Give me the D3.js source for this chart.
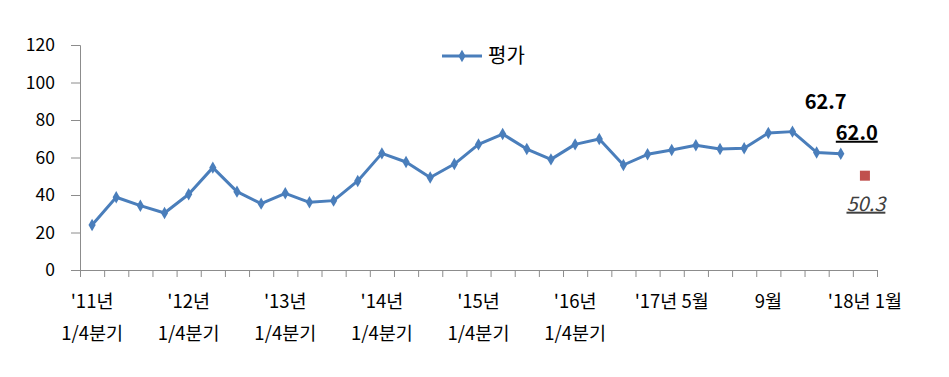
<!DOCTYPE html>
<html>
<head>
<meta charset="utf-8">
<script src="https://cdn.jsdelivr.net/npm/d3@7"></script>
<style>
  body { margin: 0; background: #fff; }
  svg text { font-family: "Noto Sans CJK KR", "Noto Sans", sans-serif; }
</style>
</head>
<body>
<div id="chart"></div>
<script>
// 2011 1Q ~ 2016 4Q (quarterly), 2017.5 ~ 2017.12 (monthly), 2018.1
const categories = [
    "11.1Q", "11.2Q", "11.3Q", "11.4Q",
    "12.1Q", "12.2Q", "12.3Q", "12.4Q",
    "13.1Q", "13.2Q", "13.3Q", "13.4Q",
    "14.1Q", "14.2Q", "14.3Q", "14.4Q",
    "15.1Q", "15.2Q", "15.3Q", "15.4Q",
    "16.1Q", "16.2Q", "16.3Q", "16.4Q",
    "17.05", "17.06", "17.07", "17.08", "17.09", "17.10", "17.11", "17.12",
    "18.01"
];

// 평가 series
const evalValues = [
    24.0, 38.8, 34.3, 30.4,
    40.4, 54.6, 41.8, 35.4,
    40.9, 36.1, 37.0, 47.5,
    62.2, 57.6, 49.3, 56.5,
    67.0, 72.5, 64.5, 59.0,
    67.0, 69.9, 56.0, 61.7,
    64.0, 66.5, 64.5, 64.9, 73.1, 73.8, 62.7, 62.0
];

// single red point for '18.01
const outlookCategory = "18.01";
const outlookValue = 50.3;

const yTicks = [0, 20, 40, 60, 80, 100, 120];

// x labels shown under the axis
const tickCategories = ["11.1Q", "12.1Q", "13.1Q", "14.1Q", "15.1Q", "16.1Q", "17.05", "17.09", "18.01"];
const tickLabels = [
    ["'11년", "1/4분기"],
    ["'12년", "1/4분기"],
    ["'13년", "1/4분기"],
    ["'14년", "1/4분기"],
    ["'15년", "1/4분기"],
    ["'16년", "1/4분기"],
    ["'17년 5월"],
    ["9월"],
    ["'18년 1월"]
];

const width = 949, height = 377;
const plotLeft = 80, plotRight = 877, plotTop = 45, plotBottom = 270;

const svg = d3.select("#chart").append("svg")
    .attr("width", width)
    .attr("height", height);

const x = d3.scaleBand()
    .domain(categories)
    .range([plotLeft, plotRight])
    .padding(0);

const y = d3.scaleLinear()
    .domain([0, 120])
    .range([plotBottom, plotTop]);

const axisColor = "#8c8c8c";

// y axis
const yAxis = svg.append("g")
    .attr("transform", `translate(${plotLeft},0)`)
    .call(d3.axisLeft(y).tickValues(yTicks).tickSize(9).tickPadding(16));
yAxis.select(".domain").attr("stroke", axisColor);
yAxis.selectAll(".tick line").attr("stroke", axisColor);
yAxis.selectAll(".tick text")
    .attr("fill", "#000")
    .style("font-size", "17.5px")
    .style("font-family", "'Noto Sans CJK KR', sans-serif");

// x axis: tick marks at band edges
const edges = d3.scaleLinear().domain([0, categories.length]).range([plotLeft, plotRight]);
const xAxis = svg.append("g")
    .attr("transform", `translate(0,${plotBottom})`)
    .call(d3.axisBottom(edges)
        .tickValues(d3.range(categories.length + 1))
        .tickSize(7)
        .tickSizeOuter(0)
        .tickFormat(""));
xAxis.select(".domain").attr("stroke", axisColor);
xAxis.selectAll(".tick line").attr("stroke", axisColor);

// x labels
const labelGroup = svg.append("g");
tickCategories.forEach((c, i) => {
    const cx = x(c) + x.bandwidth() / 2;
    tickLabels[i].forEach((line, j) => {
        labelGroup.append("text")
            .attr("x", cx)
            .attr("y", 308 + j * 32)
            .attr("text-anchor", "middle")
            .style("font-size", "18.5px")
            .attr("fill", "#000")
            .text(line);
    });
});

// series line
const lineColor = "#4a7ebb";
const line = d3.line()
    .x((d, i) => x(categories[i]) + x.bandwidth() / 2)
    .y(d => y(d));

svg.append("path")
    .datum(evalValues)
    .attr("fill", "none")
    .attr("stroke", lineColor)
    .attr("stroke-width", 3)
    .attr("stroke-linejoin", "round")
    .attr("d", line);

const diamond = d3.symbol().type(d3.symbolDiamond).size(45);

svg.append("g")
    .selectAll("path")
    .data(evalValues)
    .join("path")
    .attr("transform", (d, i) => `translate(${x(categories[i]) + x.bandwidth() / 2},${y(d)})`)
    .attr("d", diamond)
    .attr("fill", lineColor);

// red point
const ox = x(outlookCategory) + x.bandwidth() / 2;
const oy = y(outlookValue);
svg.append("rect")
    .attr("x", ox - 5)
    .attr("y", oy - 5)
    .attr("width", 10)
    .attr("height", 10)
    .attr("fill", "#c0504d");

// value labels
const n = evalValues.length;
const p30x = x(categories[n - 2]) + x.bandwidth() / 2;
const p31x = x(categories[n - 1]) + x.bandwidth() / 2;

svg.append("text")
    .attr("x", p30x + 9)
    .attr("y", y(evalValues[n - 2]) - 43)
    .attr("text-anchor", "middle")
    .style("font-size", "20px")
    .style("font-weight", "bold")
    .attr("fill", "#000")
    .text(evalValues[n - 2].toFixed(1));

svg.append("text")
    .attr("x", p31x + 16)
    .attr("y", y(evalValues[n - 1]) - 14)
    .attr("text-anchor", "middle")
    .style("font-size", "20px")
    .style("font-weight", "bold")
    .style("text-decoration", "underline")
    .attr("fill", "#000")
    .text(evalValues[n - 1].toFixed(1));

svg.append("text")
    .attr("x", ox + 1)
    .attr("y", oy + 35)
    .attr("text-anchor", "middle")
    .style("font-size", "20px")
    .style("font-style", "italic")
    .style("text-decoration", "underline")
    .attr("fill", "#404040")
    .text(outlookValue.toFixed(1));

// legend
const legend = svg.append("g").attr("transform", "translate(442,56)");
legend.append("line")
    .attr("x1", 0).attr("x2", 40)
    .attr("stroke", lineColor)
    .attr("stroke-width", 3);
legend.append("path")
    .attr("transform", "translate(20,0)")
    .attr("d", diamond)
    .attr("fill", lineColor);
legend.append("text")
    .attr("x", 46)
    .attr("y", 7)
    .style("font-size", "20px")
    .attr("fill", "#000")
    .text("평가");
</script>
</body>
</html>
